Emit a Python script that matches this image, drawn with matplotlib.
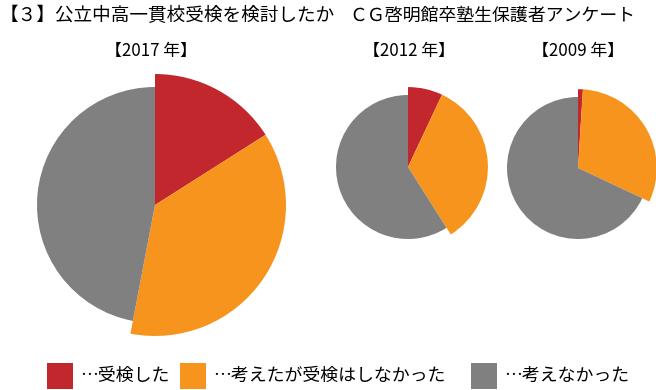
import matplotlib
matplotlib.use('Agg')
import matplotlib.pyplot as plt
from matplotlib.patches import Rectangle

plt.rcParams['font.family'] = ['Noto Sans CJK JP', 'DejaVu Sans']

#%%
years = ['【2017 年】', '【2012 年】', '【2009 年】']
took = [16, 7, 1]            # 受検した
considered = [37, 34, 31]    # 考えたが受検はしなかった
not_considered = [47, 59, 68]  # 考えなかった
labels = ['…受検した', '…考えたが受検はしなかった', '…考えなかった']
colors = ['#C1272D', '#F7941E', '#808080']

# layout in pixel units (figure is 656x390)
centers = [(155, 185), (408, 223), (578, 222)]
base_r = [118, 72, 71]
label_pos = [(151, 339), (409, 339), (578, 339)]
legend_x = [47, 180, 471]

#%%
fig = plt.figure(figsize=(6.56, 3.90), dpi=100)
ax = fig.add_axes([0, 0, 1, 1])

for i in range(3):
    vals = [took[i], considered[i], not_considered[i]]
    wedges, _ = ax.pie(vals, colors=colors, startangle=90, counterclock=False,
                       center=centers[i], radius=base_r[i])
    # red and orange slices stick out a bit
    wedges[0].set_radius(base_r[i] * 1.11)
    wedges[1].set_radius(base_r[i] * 1.11)
    ax.text(label_pos[i][0], label_pos[i][1], years[i], ha='center', va='center',
            fontsize=12.2)

ax.text(0, 374.5, '【３】公立中高一貫校受検を検討したか', ha='left', va='center', fontsize=13.4)
ax.text(349, 374.5, 'ＣＧ啓明館卒塾生保護者アンケート', ha='left', va='center', fontsize=12.9)

# legend
for x, c, lab in zip(legend_x, colors, labels):
    ax.add_patch(Rectangle((x, 1), 26, 26, facecolor=c, edgecolor='none'))
    ax.text(x + 33, 14, lab, ha='left', va='center', fontsize=12.9)

ax.set_xlim(0, 656)
ax.set_ylim(0, 390)
ax.set_aspect('equal')
ax.axis('off')

fig.savefig('out.png', dpi=100)
